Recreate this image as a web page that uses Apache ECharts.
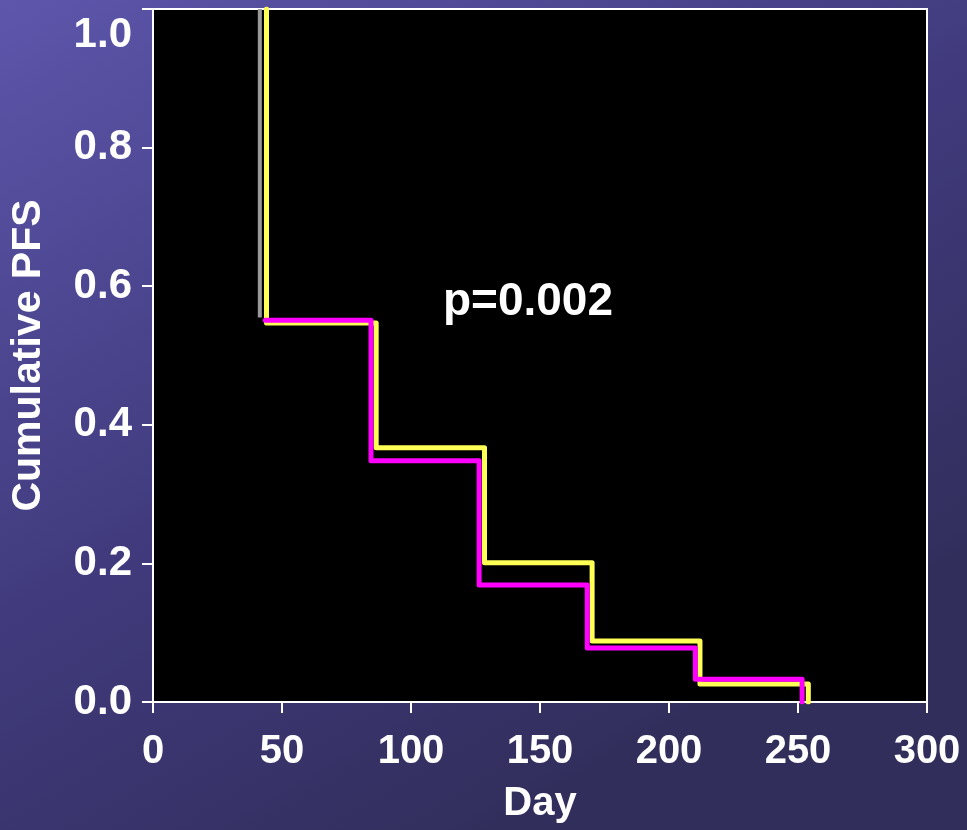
<!DOCTYPE html>
<html>
<head>
<meta charset="utf-8">
<script src="https://cdn.jsdelivr.net/npm/echarts@6/dist/echarts.min.js"></script>
<style>
html,body{margin:0;padding:0;width:967px;height:830px;overflow:hidden;}
#c{width:967px;height:830px;}
</style>
</head>
<body>
<div id="c"></div>
<script>
// Data (Day, cumulative PFS after the step)
const yellowDays = [44, 44, 86.5, 128.5, 170.2, 212, 254];
const yellowPFS  = [1.0, 0.547, 0.367, 0.201, 0.088, 0.026, 0.0];
const magentaDays = [43.5, 84.5, 126.4, 168.3, 210.2, 251.6];
const magentaPFS  = [0.551, 0.348, 0.169, 0.078, 0.033, 0.0];
const grayDays = [41.4, 41.4];
const grayPFS  = [1.0, 0.555];
const xTicks = [0, 50, 100, 150, 200, 250, 300];
const yTicks = [0.0, 0.2, 0.4, 0.6, 0.8, 1.0];
const pText = 'p=0.002';

const zip = (a, b) => a.map((v, i) => [v, b[i]]);
const FONT = 'Liberation Sans';

const chart = echarts.init(document.getElementById('c'), null, {renderer: 'canvas'});
chart.setOption({
  animation: false,
  backgroundColor: {
    type: 'linear', x: 0, y: 0, x2: 0.5, y2: 1,
    colorStops: [{offset: 0, color: '#5d56ab'}, {offset: 0.55, color: '#413b7e'}, {offset: 1, color: '#322e5c'}]
  },
  grid: {
    left: 152, right: 40, top: 9, bottom: 128,
    show: true, backgroundColor: '#000000', borderColor: '#ffffff', borderWidth: 2
  },
  xAxis: {
    type: 'value', min: xTicks[0], max: xTicks[xTicks.length - 1], interval: 50,
    name: 'Day', nameLocation: 'middle', nameGap: 82,
    nameTextStyle: {color: '#ffffff', fontFamily: FONT, fontWeight: 'bold', fontSize: 40},
    axisLine: {show: true, lineStyle: {color: '#ffffff', width: 2}},
    axisTick: {show: true, length: 11, lineStyle: {color: '#ffffff', width: 2}},
    axisLabel: {color: '#ffffff', fontFamily: FONT, fontWeight: 'bold', fontSize: 40, margin: 30},
    splitLine: {show: false}
  },
  yAxis: {
    type: 'value', min: yTicks[0], max: yTicks[yTicks.length - 1], interval: 0.2,
    name: 'Cumulative PFS', nameLocation: 'middle', nameGap: 104,
    nameTextStyle: {color: '#ffffff', fontFamily: FONT, fontWeight: 'bold', fontSize: 41},
    axisLine: {show: true, lineStyle: {color: '#ffffff', width: 2}},
    axisTick: {show: true, length: 11, lineStyle: {color: '#ffffff', width: 2}},
    axisLabel: {
      color: '#ffffff', fontFamily: FONT, fontWeight: 'bold', fontSize: 42, margin: 21,
      formatter: v => Math.abs(v - 1) < 1e-9 ? '{t|' + v.toFixed(1) + '}' : v.toFixed(1),
      rich: {t: {color: '#ffffff', fontFamily: FONT, fontWeight: 'bold', fontSize: 42, padding: [52, 0, 0, 0]}}
    },
    splitLine: {show: false}
  },
  series: [
    {
      type: 'line', data: zip(grayDays, grayPFS), symbol: 'none', z: 2,
      lineStyle: {color: '#999999', width: 4}
    },
    {
      type: 'line', step: 'end', data: zip(yellowDays, yellowPFS), symbol: 'none', z: 3,
      lineStyle: {color: '#ffff55', width: 5, cap: 'round', join: 'round'}
    },
    {
      type: 'line', step: 'end', data: zip(magentaDays, magentaPFS), symbol: 'none', z: 4,
      lineStyle: {color: '#ff00ff', width: 5, cap: 'round', join: 'round'}
    }
  ],
  graphic: [{
    type: 'text', x: 528, y: 302, z: 100,
    style: {text: pText, fill: '#ffffff', font: 'bold 46px "Liberation Sans"', align: 'center', verticalAlign: 'middle'}
  }]
});
</script>
</body>
</html>
